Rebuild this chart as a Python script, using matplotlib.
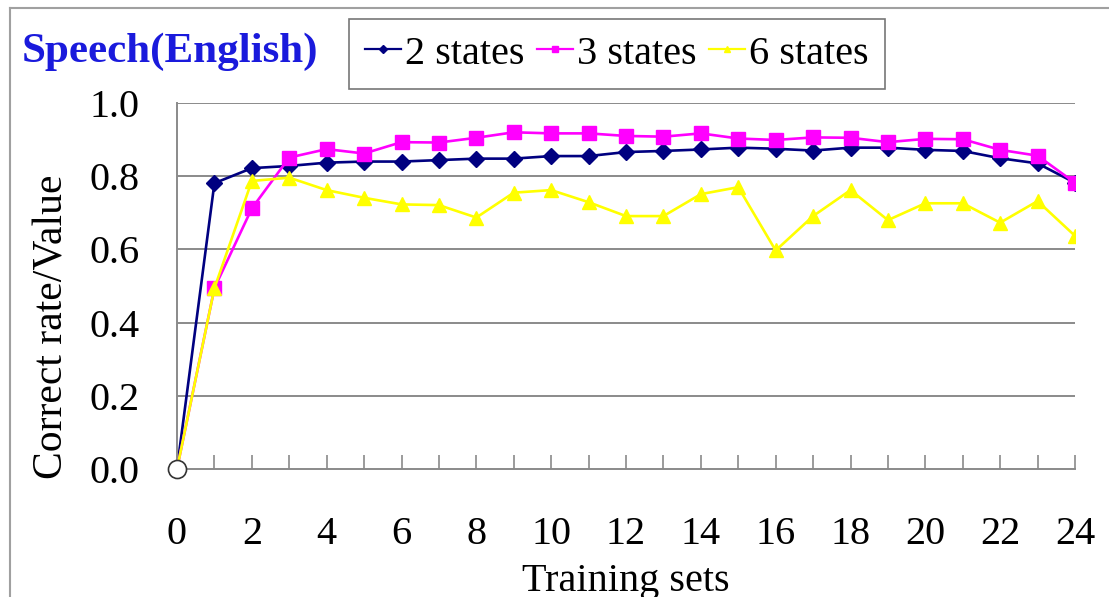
import matplotlib
matplotlib.use("Agg")
import matplotlib.pyplot as plt
from matplotlib.lines import Line2D

# Training set index (0..24)
training_sets = list(range(25))

# Correct rate for each model size
states_2 = [0.0, 0.781, 0.822, 0.828, 0.837, 0.840, 0.840, 0.844, 0.848, 0.848,
            0.855, 0.855, 0.866, 0.869, 0.873, 0.878, 0.875, 0.870, 0.878, 0.878,
            0.872, 0.869, 0.849, 0.835, 0.782]
states_3 = [0.0, 0.494, 0.712, 0.851, 0.874, 0.862, 0.893, 0.892, 0.905, 0.920,
            0.917, 0.917, 0.910, 0.908, 0.917, 0.903, 0.899, 0.906, 0.905, 0.893,
            0.902, 0.901, 0.872, 0.856, 0.782]
states_6 = [0.0, 0.494, 0.787, 0.796, 0.762, 0.741, 0.723, 0.721, 0.687, 0.755,
            0.762, 0.729, 0.691, 0.691, 0.751, 0.770, 0.597, 0.691, 0.762, 0.680,
            0.726, 0.726, 0.673, 0.732, 0.637]

series_labels = ["2 states", "3 states", "6 states"]
y_tick_values = [0.0, 0.2, 0.4, 0.6, 0.8, 1.0]

plt.rcParams["font.family"] = ["Liberation Serif", "DejaVu Serif"]

FS = 29
W, H = 1109, 597

fig = plt.figure(figsize=(W / 100, H / 100), dpi=100)
fig.patch.set_facecolor("white")

# thin grey frame around the figure (top and left edges)
fig.add_artist(Line2D([10 / W, 1.0], [1 - 8 / H, 1 - 8 / H],
                      transform=fig.transFigure, color="#a0a0a0", lw=1.5))
fig.add_artist(Line2D([10 / W, 10 / W], [0.0, 1 - 8 / H],
                      transform=fig.transFigure, color="#a0a0a0", lw=1.5))

ax = fig.add_axes([177 / W, 128 / H, 898 / W, 366 / H])
ax.set_xlim(0, 24)
ax.set_ylim(0, 1.0)

grey = "#8a8a8a"
for y in y_tick_values[1:]:
    ax.axhline(y, color=grey, lw=1.4, zorder=1)

lw = 1.9
c2, c3, c6 = "#000080", "#ff00ff", "#ffff00"
ax.plot(training_sets[1:], states_2[1:], color=c2, lw=lw, marker="D",
        markersize=8, zorder=2, label=series_labels[0])
ax.plot(training_sets[1:], states_3[1:], color=c3, lw=lw, marker="s",
        markersize=9.5, zorder=3, label=series_labels[1])
ax.plot(training_sets[1:], states_6[1:], color=c6, lw=lw, marker="^",
        markersize=9.5, zorder=4, label=series_labels[2])
# segments from the origin
ax.plot(training_sets[:2], states_2[:2], color=c2, lw=lw, zorder=2)
ax.plot(training_sets[:2], states_3[:2], color=c3, lw=lw, zorder=3)
ax.plot(training_sets[:2], states_6[:2], color=c6, lw=lw, zorder=4)
ax.plot([training_sets[0]], [states_2[0]], marker="o", markersize=13,
        markerfacecolor="white", markeredgecolor="#333333", markeredgewidth=1.2,
        linestyle="none", zorder=6, clip_on=False)

for side in ["top", "right"]:
    ax.spines[side].set_visible(False)
for side in ["left", "bottom"]:
    ax.spines[side].set_color(grey)
    ax.spines[side].set_linewidth(1.4)

ax.set_xticks(training_sets)
ax.set_xticklabels([str(v) if v % 2 == 0 else "" for v in training_sets])
ax.tick_params(axis="x", direction="in", length=10, width=1.2, color=grey,
               labelsize=FS, pad=34)
ax.set_yticks(y_tick_values)
ax.set_yticklabels([f"{v:.1f}" for v in y_tick_values])
ax.tick_params(axis="y", length=0, labelsize=FS, pad=27)

ax.set_xlabel("Training sets", fontsize=FS, labelpad=7)
fig.text(52.5 / W, 1 - 327 / H, "Correct rate/Value", fontsize=30,
         rotation=90, ha="center", va="center")

fig.text(22 / W, 1 - 52 / H, "Speech(English)", color="#1a1adc",
         fontsize=31, fontweight="bold", va="center", ha="left")

handles = [
    Line2D([], [], color=c2, lw=1.6, marker="D", markersize=4),
    Line2D([], [], color=c3, lw=1.6, marker="s", markersize=5),
    Line2D([], [], color=c6, lw=1.6, marker="^", markersize=5),
]
leg = fig.legend(handles, series_labels, loc="center left",
                 bbox_to_anchor=(349 / W, 1 - 54 / H), ncol=3,
                 fontsize=FS, frameon=True, fancybox=False,
                 handlelength=0.9, handletextpad=0.1, columnspacing=0.3,
                 borderpad=0.4, borderaxespad=0.0)
leg.get_frame().set_edgecolor("#555555")
leg.get_frame().set_linewidth(1.2)

fig.savefig("out.png", dpi=100, facecolor="white")
